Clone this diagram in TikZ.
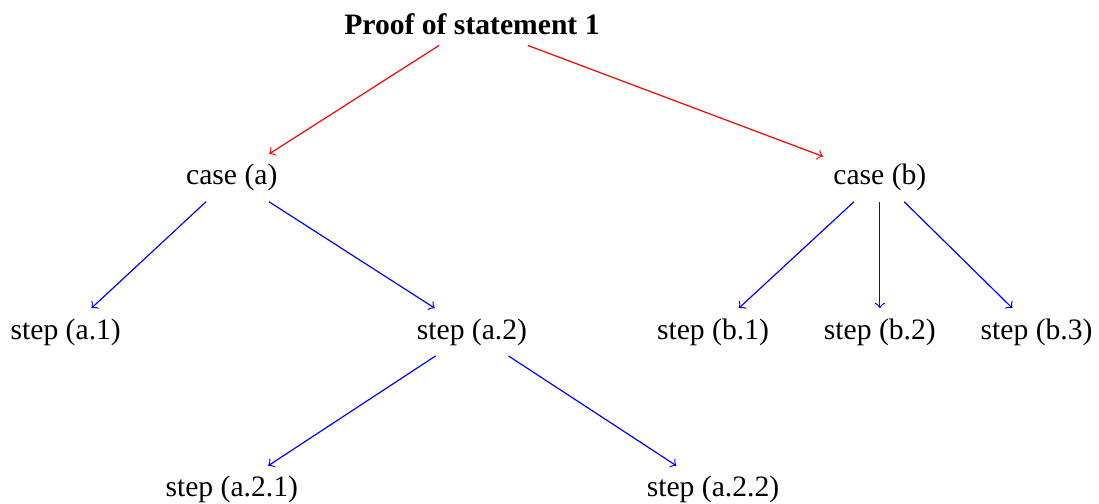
\documentclass[tikz,border=0pt]{standalone}
\usepackage{fontspec}
\setmainfont{Liberation Serif}
\usepackage{tikz}
\usetikzlibrary{positioning}

\begin{document}
\begin{tikzpicture}[
  on grid,
  title/.style={font=\bfseries},
  stepnode/.style={},
  toparrow/.style={->,draw=red},
  subarrow/.style={->,draw=blue}
]
  \useasboundingbox (-5.60,0.29) rectangle (7.44,-5.68);
  \node[title] (proof) at (0,0) {Proof of statement 1};
  \node[stepnode,below left=18.2mm and 28.5mm of proof] (casea) {case (a)};
  \node[stepnode,below right=18.2mm and 48.4mm of proof] (caseb) {case (b)};
  \node[stepnode,below left=18.3mm and 19.7mm of casea] (stepa1) {step (a.1)};
  \node[stepnode,below right=18.3mm and 28.5mm of casea] (stepa2) {step (a.2)};
  \node[stepnode,below left=18.3mm and 19.8mm of caseb] (stepb1) {step (b.1)};
  \node[stepnode,below=18.3mm of caseb] (stepb2) {step (b.2)};
  \node[stepnode,below right=18.3mm and 18.6mm of caseb] (stepb3) {step (b.3)};
  \node[stepnode,below left=18.7mm and 28.5mm of stepa2] (stepa21) {step (a.2.1)};
  \node[stepnode,below right=18.7mm and 28.6mm of stepa2] (stepa22) {step (a.2.2)};
  % red arrows from the statement
  \draw[toparrow] (proof) -- (casea);
  \draw[toparrow] (proof) -- (caseb);
  % blue arrows to the steps
  \draw[subarrow] (casea) -- (stepa1);
  \draw[subarrow] (casea) -- (stepa2);
  \draw[subarrow] (caseb) -- (stepb1);
  \draw[subarrow] (caseb) -- (stepb2);
  \draw[subarrow] (caseb) -- (stepb3);
  \draw[subarrow] (stepa2) -- (stepa21);
  \draw[subarrow] (stepa2) -- (stepa22);
\end{tikzpicture}
\end{document}
